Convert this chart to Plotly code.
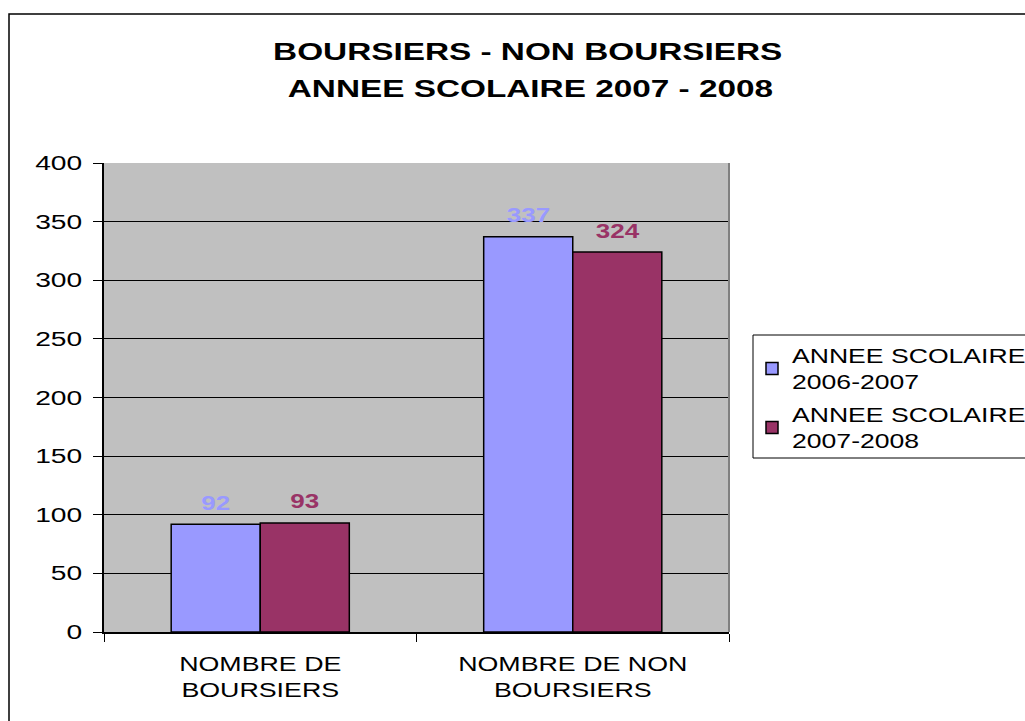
import plotly.graph_objects as go

categories = ["NOMBRE DE<br>BOURSIERS", "NOMBRE DE NON<br>BOURSIERS"]
series_names = ["ANNEE SCOLAIRE<br>2006-2007", "ANNEE SCOLAIRE<br>2007-2008"]
values_2006 = [92, 337]
values_2007 = [93, 324]
colors = ["#9999FF", "#993366"]
y_ticks = [0, 50, 100, 150, 200, 250, 300, 350, 400]
title_lines = ["BOURSIERS - NON BOURSIERS", "ANNEE SCOLAIRE 2007 - 2008"]

FONT = "Liberation Sans, Arial, sans-serif"

# pixel geometry of the plot area
L, R, T, B = 104, 729, 163, 632
W, H = 1025, 721
pw, ph = R - L, B - T


def px(x):
    return (x - L) / pw


def py(y):
    return (B - y) / ph


fig = go.Figure()
for k, (name, vals, col) in enumerate(zip(series_names, [values_2006, values_2007], colors)):
    fig.add_trace(go.Bar(
        x=categories, y=vals, name=name, legendgroup="g%d" % k,
        marker=dict(color=col, line=dict(color="black", width=1.5)),
    ))

# title (two lines)
fig.add_annotation(text=title_lines[0], xref="paper", yref="paper", x=px(527), y=py(52),
                   showarrow=False, xanchor="center", yanchor="middle",
                   font=dict(family=FONT, size=23, color="black", weight="bold"))
fig.add_annotation(text=title_lines[1], xref="paper", yref="paper", x=px(530), y=py(89),
                   showarrow=False, xanchor="center", yanchor="middle",
                   font=dict(family=FONT, size=23, color="black", weight="bold"))

# value labels
for i, (vals, col) in enumerate(zip([values_2006, values_2007], colors)):
    for j, v in enumerate(vals):
        fig.add_annotation(
            x=categories[j], y=v, text=str(v), showarrow=False,
            xshift=(-44.5 if i == 0 else 44.5), yshift=22, xanchor="center", yanchor="middle",
            font=dict(family=FONT, size=21, color=col, weight="bold"),
            xref="x", yref="y",
        )

# outer chart border
fig.add_shape(type="rect", xref="paper", yref="paper",
              x0=px(9), x1=px(W + 40), y0=py(H + 40), y1=py(14),
              line=dict(color="black", width=1.5), fillcolor="rgba(0,0,0,0)", layer="below")
# legend box (extends beyond right edge, as in the reference)
fig.add_shape(type="rect", xref="paper", yref="paper",
              x0=px(753), x1=px(W + 40), y0=py(458), y1=py(335),
              line=dict(color="black", width=1), fillcolor="white", layer="below")
# plot area right border gray
fig.add_shape(type="line", xref="paper", yref="paper", x0=1, x1=1, y0=0, y1=1,
              line=dict(color="#808080", width=2))

fig.update_layout(
    width=W, height=H,
    margin=dict(l=L, r=W - R, t=T, b=H - B),
    paper_bgcolor="white", plot_bgcolor="#C0C0C0",
    barmode="group", bargap=0.43, bargroupgap=0,
    font=dict(family=FONT, size=20, color="black"),
    showlegend=True,
    legend=dict(
        x=px(752), y=py(336), xanchor="left", yanchor="top",
        borderwidth=0, bgcolor="rgba(0,0,0,0)",
        font=dict(family=FONT, size=20, color="black"),
        tracegroupgap=4,
    ),
    xaxis=dict(
        showgrid=False, showline=True, linecolor="black", linewidth=1.5,
        ticks="outside", tickson="boundaries", ticklen=8, tickcolor="black",
        ticklabelstandoff=13,
        tickfont=dict(family=FONT, size=20, color="black"),
    ),
    yaxis=dict(
        range=[0, 400], tickvals=y_ticks, showgrid=True, gridcolor="black", gridwidth=1,
        showline=True, linecolor="black", linewidth=1.5,
        ticks="outside", ticklen=9, tickcolor="black", zeroline=False,
        ticklabelstandoff=7,
        tickfont=dict(family=FONT, size=20, color="black"),
    ),
)

# The reference text is horizontally stretched (as in the original exported chart);
# reproduce that by scaling each text element around its own anchor point.
post = """
document.body.style.margin = '0';
var gd = document.getElementById('{plot_id}');
gd.querySelectorAll('.legend [clip-path]').forEach(function (e) { e.removeAttribute('clip-path'); });
gd.querySelectorAll('text').forEach(function (t) {
  if (t.getAttribute('data-stretched')) return;
  var s = 1.33;
  var txt = (t.textContent || '').trim();
  if (!txt) return;
  if (t.closest('.ytick')) s = 1.41;
  else if (t.closest('.xtick')) s = 1.34;
  else if (t.classList.contains('legendtext')) s = 1.33;
  else if (t.classList.contains('annotation-text')) s = /^[0-9]+$/.test(txt) ? 1.24 : 1.45;
  var bb = t.getBBox();
  var anchor = t.getAttribute('text-anchor') || 'start';
  var cx = anchor === 'middle' ? bb.x + bb.width / 2 : (anchor === 'end' ? bb.x + bb.width : bb.x);
  var tr = t.getAttribute('transform') || '';
  t.setAttribute('transform', tr + ' translate(' + cx + ',0) scale(' + s + ',1) translate(' + (-cx) + ',0)');
  t.setAttribute('data-stretched', '1');
});
"""

fig.write_html("out.html", post_script=post, config={"displayModeBar": False})
